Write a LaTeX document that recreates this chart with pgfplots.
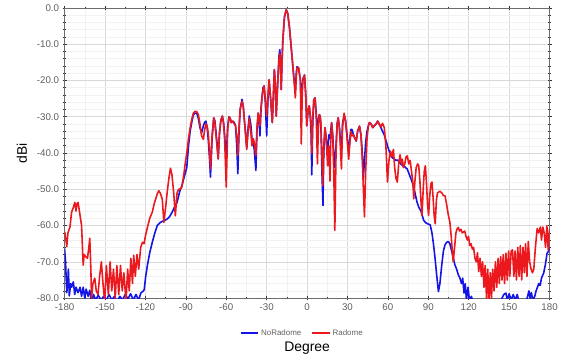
\documentclass[border=0pt]{standalone}
\usepackage{fontspec}
\setmainfont{Liberation Sans}
\usepackage{pgfplots}
\pgfplotsset{compat=1.18}
\definecolor{nrblue}{RGB}{20,20,230}
\definecolor{rred}{RGB}{235,25,30}
\definecolor{ticktxt}{RGB}{95,95,95}
\begin{document}
\begin{tikzpicture}
\begin{axis}[
  scale only axis, width=488pt, height=292pt,
  xmin=-180, xmax=180, ymin=-80, ymax=0,
  xtick={-180,-150,...,180},
  ytick={-80,-70,...,0},
  minor x tick num=1, minor y tick num=4,
  grid=both,
  major grid style={draw=gray!30, line width=0.6pt},
  minor grid style={draw=gray!11, line width=0.5pt},
  axis line style={draw=gray!85!black, line width=0.8pt},
  tick align=center,
  major tick length=4pt, minor tick length=2.5pt,
  tick style={draw=black!80, line width=0.6pt},
  /pgf/number format/assume math mode=true,
  ticklabel style={font=\fontsize{9.8}{11}\selectfont, text=ticktxt},
  yticklabel style={/pgf/number format/.cd, fixed, fixed zerofill, precision=1},
  xticklabel style={/pgf/number format/.cd, fixed, precision=0},
  xlabel={Degree}, ylabel={dBi},
  xlabel style={font=\fontsize{14}{16}\selectfont, at={(axis description cs:0.5,-0.172)}, anchor=center},
  ylabel style={font=\fontsize{14}{16}\selectfont, at={(axis description cs:-0.088,0.5)}, anchor=center},
  legend style={at={(axis description cs:0.49,-0.12)}, anchor=center, draw=none, fill=none,
    legend columns=2, font=\fontsize{8}{10}\selectfont, text=ticktxt,
    /tikz/every even column/.append style={column sep=8pt}},
  legend image code/.code={\draw[#1, line width=1.5pt] (0pt,0pt) -- (18pt,0pt);},
  clip=true,
]
\addplot[nrblue, line width=1.6pt, line join=round] coordinates {
(-180,-66.3) (-179.3,-70) (-178.4,-78.5) (-177.7,-76) (-177.2,-72) (-176.5,-79.4) (-175.5,-76) (-174.8,-77)
(-173.5,-75.5) (-172.5,-79) (-171.5,-77) (-170,-78.5) (-168.5,-77) (-167.4,-79.5) (-166.2,-77) (-165,-80)
(-164,-77.5) (-162.5,-79.5) (-161.3,-77.8) (-160,-81) (-158.5,-79) (-157,-80.5) (-155,-79.2) (-153,-80.5)
(-151,-79.5) (-149,-80.5) (-147,-79) (-145,-80.5) (-143,-79.5) (-141,-81) (-139,-79.5) (-137,-80.5)
(-135,-79) (-133,-80.2) (-131,-78.8) (-129,-80.5) (-127,-79) (-125,-80.5) (-123.4,-78.6) (-121.5,-78)
(-120.9,-77.7) (-119.8,-74) (-118.5,-70.9) (-116.8,-67.5) (-114.9,-64.6) (-113,-62) (-111.2,-60) (-110,-59.5)
(-108.8,-59.1) (-106,-58.6) (-103.9,-58.2) (-102,-57.5) (-100.2,-56.3) (-98.5,-55) (-96.5,-53.6) (-94.5,-50.5)
(-92.9,-49) (-91.5,-47) (-89.3,-44) (-88,-38) (-86.8,-34) (-85.6,-31.5) (-84.4,-29.5) (-83.2,-29)
(-81.9,-29) (-80.7,-30.5) (-79.5,-33) (-78.3,-34.5) (-77,-32.5) (-76,-31.5) (-75.1,-31.2) (-74.2,-33)
(-73.4,-36) (-72.5,-41) (-71.7,-46.6) (-70.5,-36) (-69.3,-30.3) (-68.5,-31) (-67.8,-33.5) (-66.9,-37)
(-66,-41.6) (-65,-34.5) (-64,-31) (-62.9,-29.8) (-62,-31.5) (-61.2,-35) (-60,-42) (-59,-33)
(-58,-30) (-57,-30.5) (-56.3,-31.6) (-55.1,-31.2) (-54,-31.6) (-53.1,-32.5) (-52.2,-38) (-51.4,-45.7)
(-50.5,-34) (-49.7,-28) (-48.3,-25.2) (-47.4,-27) (-46.6,-30.7) (-45.6,-35) (-44.8,-38.5) (-44,-34)
(-42.9,-29.8) (-41.8,-32) (-40.9,-36) (-40,-37.5) (-39.2,-39) (-38,-44.8) (-37.2,-34) (-36.3,-29)
(-35.6,-31) (-35,-35.3) (-34.3,-29) (-33.6,-25) (-32.7,-22) (-31.9,-21.5) (-31,-26) (-30,-35.3)
(-29,-25) (-28.2,-19.8) (-27,-25.3) (-25.8,-31.6) (-25,-24) (-24.3,-17) (-23.6,-21) (-22.9,-29.8)
(-22.1,-23) (-21.4,-17.5) (-20.8,-13) (-20.2,-11.5) (-19.7,-16) (-19.2,-22.5) (-18.6,-15) (-18,-8.9)
(-16.8,-2.5) (-15.5,-0.5) (-14.3,-1.6) (-13.1,-5.3) (-11.6,-11.6) (-9.9,-18.9) (-8.7,-23) (-8,-18)
(-7.5,-16.2) (-6.3,-16.5) (-5,-19.8) (-4.3,-26) (-3.6,-22) (-3.1,-19.5) (-1.9,-18.5) (-1,-24)
(-0.2,-32.5) (0.8,-28) (1.6,-27) (2.4,-30) (3,-35) (3.5,-46) (4.2,-32) (5,-25.3)
(5.9,-24.8) (6.8,-29) (7.7,-35) (8.4,-31) (9.1,-29.4) (9.8,-30) (10.3,-33) (11,-45)
(11.8,-54.5) (12.4,-40) (13.3,-33) (14.2,-36) (15.2,-40) (16.2,-35) (17,-36) (18.2,-31.6)
(19,-35) (19.8,-40) (20.6,-44) (21.5,-38) (22.3,-32) (23.1,-30.3) (24,-33) (24.8,-37)
(25.5,-40) (26.3,-32) (27.5,-29.5) (28.5,-31) (29.7,-35) (30.9,-40) (31.8,-36) (32.5,-33.5)
(33.3,-33.5) (34.5,-35) (35.5,-36) (36.5,-36.7) (37.5,-34) (38.9,-32.6) (40,-35) (41,-40)
(41.8,-46.7) (42.6,-42) (43.5,-37) (44.5,-34) (45.5,-32.5) (46.3,-31.6) (47.5,-32) (48.8,-33)
(50,-32.4) (51.2,-32) (52.4,-31.2) (53.5,-32) (54.8,-33) (56,-34) (57.3,-35) (58.5,-36.5)
(59.7,-38) (61,-39.5) (62.5,-41) (64,-41.5) (66,-42) (67.5,-42) (69.5,-43) (71,-43.5)
(72.5,-43.8) (74.3,-44.4) (76,-46) (78,-48) (79.5,-50) (81.6,-53.5) (83,-55) (84.5,-56)
(86.5,-58.5) (88,-59.2) (89.5,-59.5) (91.4,-59.8) (92.7,-62) (93.8,-65) (95,-69) (96.3,-74)
(97.5,-78.2) (98.6,-76) (100,-70.8) (101.2,-67) (102.4,-65.3) (103.6,-64.6) (104.9,-64.4) (106,-65)
(107,-66.5) (108.3,-68.5) (109.7,-70.8) (111,-72) (112.2,-73.5) (113.4,-74.4) (114.6,-76) (115.5,-74.5)
(116.5,-78.6) (117.4,-76) (118.3,-80.5) (119.5,-77) (120.5,-80.5) (122,-79.5) (123,-81) (125,-80.5)
(127,-81) (130,-80.5) (133,-81) (135,-80.5) (138,-81) (141,-80.5) (144,-80.5) (146,-79)
(147.6,-78.6) (148.5,-80.5) (150,-78.8) (151.5,-80.5) (153,-79) (154.5,-80.5) (156,-79) (157,-80.5)
(160,-81) (163,-80.5) (164.7,-78) (165.5,-80) (166.5,-78.5) (167.5,-80.5) (169,-79.5) (170,-78)
(171,-77) (172,-76) (173,-76.5) (174,-74.5) (175.7,-73) (177,-70.5) (178.1,-67.7) (179.3,-67) (180,-66)
};
\addlegendentry{NoRadome}
\addplot[rred, line width=1.6pt, line join=round] coordinates {
(-180,-61.7) (-179,-64) (-178.4,-65.8) (-177.5,-62) (-176,-60.4) (-174.8,-56.3) (-173.5,-55) (-172.4,-53.6)
(-171.5,-56) (-170.8,-54) (-170,-53.6) (-169,-56) (-167.4,-60) (-166.2,-70.9) (-165.5,-68) (-164.5,-68.5)
(-163,-69) (-162,-66) (-161.3,-63.5) (-160.5,-72) (-160,-80) (-159,-76) (-157.6,-74.5) (-156.5,-78)
(-155.2,-79) (-154,-74) (-152.7,-70) (-151.5,-76) (-150.2,-81) (-149,-71) (-147.5,-79) (-146.2,-70)
(-145,-78) (-143.7,-72) (-142.4,-80) (-141.2,-71) (-139.8,-79) (-138.5,-71) (-137.2,-78) (-136,-73)
(-134.4,-81) (-133.2,-72) (-132,-78) (-130.8,-69) (-129.6,-76) (-128.7,-68.2) (-127.5,-74) (-126.3,-68)
(-125,-72) (-123.5,-66) (-122.2,-64.6) (-121,-65) (-119.8,-62.5) (-118.5,-60.5) (-116.8,-58) (-114.9,-56.3)
(-113.5,-54) (-112.4,-52.7) (-111,-51) (-110,-50.4) (-108.8,-51.2) (-107.5,-52.7) (-106.3,-59.1) (-105,-55)
(-103.9,-51) (-102.6,-47) (-101.4,-44.2) (-100.3,-46) (-99,-51) (-97.8,-57.3) (-96.5,-51) (-95.4,-50)
(-94.1,-49.9) (-93,-49.4) (-91.5,-46) (-90.5,-43) (-89.3,-40) (-88,-36) (-86.8,-33) (-85.6,-30.7)
(-84.4,-29) (-83.2,-28.5) (-81.9,-28.6) (-80.7,-29.4) (-79.5,-32) (-78.3,-35.3) (-77,-36.2) (-76,-33.5)
(-75.1,-32) (-74.2,-32.5) (-73.4,-34.4) (-72.5,-39) (-71.7,-44.4) (-70.5,-35) (-69.3,-30.3) (-68.5,-31.5)
(-67.8,-34.4) (-66.9,-38) (-66,-41.6) (-65,-34.4) (-64,-31) (-62.9,-29.8) (-62,-32) (-61.2,-36.2)
(-60,-49.4) (-59,-34) (-58,-30) (-57,-30.5) (-56.3,-31.6) (-55.1,-31.2) (-54,-32) (-53.1,-32.5)
(-52,-36) (-51.4,-40.7) (-50.5,-33) (-49.7,-28) (-48.3,-25.7) (-47.4,-27) (-46.6,-30.7) (-45.6,-35)
(-44.8,-39) (-44,-35) (-42.9,-30.5) (-41.8,-34) (-40.9,-38) (-40,-36) (-39.2,-37) (-38,-40.7)
(-37.2,-33) (-36.3,-29) (-35.6,-30.5) (-35,-32.5) (-34.3,-28) (-33.6,-25.3) (-32.7,-22.5) (-31.9,-21.5)
(-31,-25) (-30,-29.8) (-29,-24) (-28.2,-19.8) (-27,-25.3) (-25.8,-31.6) (-25,-24) (-24.3,-17)
(-23.6,-21) (-22.9,-29.8) (-22.1,-23) (-21.4,-18) (-20.8,-14) (-20.2,-12.5) (-19.7,-16) (-19.2,-22.5)
(-18.6,-15) (-18,-8.9) (-16.8,-2.5) (-15.5,-0.5) (-14.3,-1.6) (-13.1,-5.3) (-11.6,-11.6) (-9.9,-18.9)
(-8.7,-24.8) (-8,-19) (-7.5,-16.5) (-6.3,-16.5) (-5,-19.8) (-4.3,-37.5) (-3.6,-24) (-3.1,-19.8)
(-1.9,-18.5) (-1,-24) (-0.2,-32.5) (0.8,-28) (1.6,-27) (2.4,-29.5) (3,-32.5) (3.5,-40)
(4.2,-30) (5,-25.3) (5.9,-24.8) (6.8,-30) (7.7,-43) (8.4,-33) (9.1,-29.4) (9.8,-30)
(10.3,-32) (11,-40) (11.6,-49) (12.4,-38) (13.3,-33) (14.2,-36) (15.2,-43.5) (16.2,-38)
(17,-47.7) (17.6,-36) (18.2,-31.6) (19,-35) (19.8,-45) (20.6,-61.3) (21.5,-40) (22.3,-32)
(23.1,-30.3) (24,-33) (24.8,-39) (25.5,-44.4) (26.3,-33) (27.5,-29) (28.5,-31) (29.7,-36)
(30.9,-41.7) (31.8,-37) (32.5,-34) (33.3,-35.3) (34.5,-35) (35.5,-36) (36.5,-36.7) (37.5,-34)
(38.9,-32.6) (40,-35) (41,-42) (41.8,-50) (42.6,-57.6) (43.5,-45) (44.5,-36) (45.5,-32.5)
(46.3,-31.6) (47.5,-32) (48.8,-33) (50,-32.4) (51.2,-32) (52.4,-31.2) (53.5,-32) (54.8,-32.8)
(56,-31.8) (57.3,-33) (58.5,-38) (59.7,-48) (60.8,-42) (62,-39.5) (63,-41) (64.1,-39)
(65,-44) (66,-47) (67,-48) (68,-43) (69,-40.5) (70,-43) (70.7,-41.7) (71.5,-44)
(72.5,-43) (73.5,-41) (74.4,-40.8) (75.5,-43) (76.5,-42) (77.5,-45) (78.5,-48) (79.2,-52.6)
(80,-48) (81,-44) (82.1,-43) (82.9,-43.5) (83.8,-48) (84.5,-53) (85.3,-57.2) (86.2,-50)
(87,-45) (87.8,-43.5) (88.6,-48) (89.4,-54) (90.2,-57.2) (91,-52) (91.9,-48.5) (92.7,-48)
(93.5,-52) (94.3,-57) (95.1,-59.5) (96,-53) (96.8,-51) (97.6,-50.8) (98.6,-50.5) (100,-51)
(101.2,-51.7) (102.4,-51.8) (103.5,-54) (104.9,-57.2) (106,-59) (107,-63) (108,-68) (108.5,-70)
(109.5,-66) (110.5,-62) (111.3,-61) (112.2,-60.5) (113.2,-61.5) (114.2,-61) (115.2,-62) (116,-61.8)
(117,-61.5) (118,-63) (119,-64) (119.8,-63) (120.8,-65.5) (121.7,-65) (122.7,-66.5) (123.6,-66)
(124.6,-69) (125.6,-70) (126.5,-67.5) (127.4,-72.7) (128.4,-69) (129.4,-74) (130.3,-70) (131.3,-77)
(132.2,-71) (133.2,-80) (134.1,-72) (135,-81) (136,-73) (136.9,-80) (137.8,-72) (138.8,-78)
(139.8,-70) (140.8,-77) (141.8,-69) (142.7,-76) (143.7,-68.5) (144.7,-75) (145.6,-68) (146.6,-76)
(147.6,-67.6) (148.6,-75) (149.6,-67) (150.5,-74) (151.5,-67) (152.5,-66.7) (153.5,-74) (154.4,-67)
(155.4,-75) (156.4,-66) (157.4,-74) (158.3,-65.5) (159.3,-75) (160.3,-66) (161.3,-73) (162.2,-65)
(163.2,-74) (164.2,-64.4) (165.2,-70) (166.3,-72) (167.3,-73) (168.3,-72) (169.5,-66) (170.8,-60.8)
(172,-62) (173.2,-60.4) (174,-64) (175,-60.4) (176,-62) (177,-66) (178,-60) (179,-66.7) (180,-61)
};
\addlegendentry{Radome}
\end{axis}
\path ([xshift=-65pt,yshift=-62pt]current axis.south west) rectangle ([xshift=8pt,yshift=8pt]current axis.north east);
\end{tikzpicture}
\end{document}
